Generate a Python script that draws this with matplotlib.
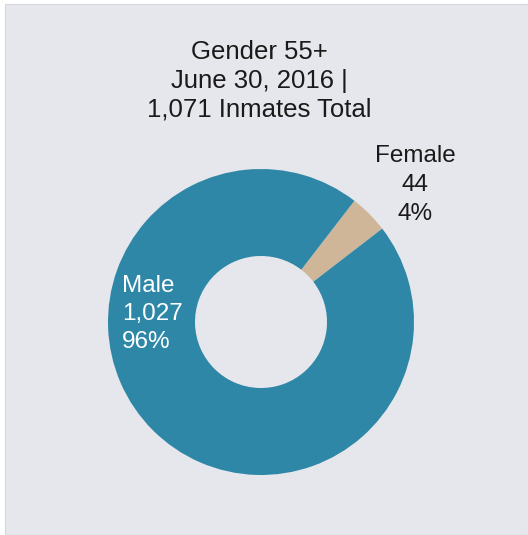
import matplotlib
matplotlib.use('Agg')
import matplotlib.pyplot as plt
from matplotlib.patches import Rectangle

labels = ['Female', 'Male']
counts = [44, 1027]
pcts = ['4%', '96%']
colors = ['#d0b699', '#2e87a7']
title = 'Gender 55+\nJune 30, 2016 |\n1,071 Inmates Total'

W, H = 528, 535
fig = plt.figure(figsize=(W / 100, H / 100), dpi=100, facecolor='white')
ax = fig.add_axes([0, 0, 1, 1])

# panel background
ax.add_patch(Rectangle((5, 0), W - 5, H - 4, facecolor='#e6e7ec',
                       edgecolor='#d6d7dc', linewidth=0.8, zorder=0))

ax.pie(counts, colors=colors, startangle=37.6, counterclock=True,
       center=(261, H - 322), radius=153,
       wedgeprops=dict(width=153 - 66, linewidth=0))

ax.set_xlim(0, W)
ax.set_ylim(0, H)
ax.set_aspect('auto')
ax.axis('off')

fnt = 'Liberation Sans'
ax.text(259, H - 81, title, ha='center', va='center', fontsize=18.5,
        family=fnt, color='#1a1a1a', linespacing=1.26)
ax.text(415, H - 185, '%s\n%d\n%s' % (labels[0], counts[0], pcts[0]),
        ha='center', va='center', fontsize=17.5, family=fnt,
        color='#1a1a1a', linespacing=1.4)
ax.text(122, H - 314, '%s\n%s\n%s' % (labels[1], format(counts[1], ','), pcts[1]),
        ha='left', va='center', fontsize=17.5, family=fnt,
        color='white', linespacing=1.38)

plt.savefig('out.png', dpi=100, facecolor='white')
